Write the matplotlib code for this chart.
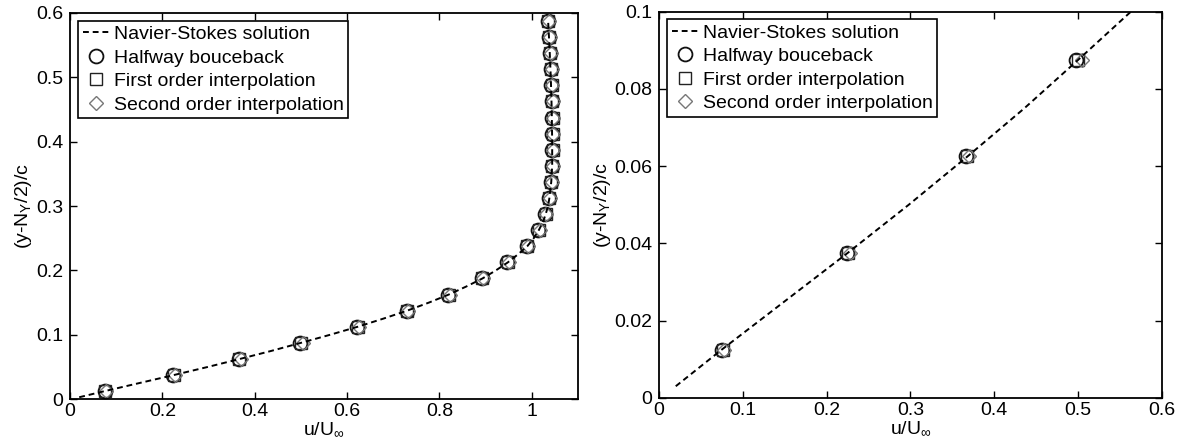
import matplotlib.pyplot as plt
from matplotlib.ticker import FormatStrFormatter, MultipleLocator

plt.rcParams['font.family'] = ['Liberation Sans', 'DejaVu Sans']
plt.rcParams['mathtext.default'] = 'regular'

# Navier-Stokes reference profile
ns_y = [0.003, 0.0125, 0.025, 0.0375, 0.05, 0.0625, 0.075, 0.0875, 0.1, 0.1125,
        0.125, 0.1375, 0.15, 0.1625, 0.175, 0.1875, 0.2, 0.2125, 0.225, 0.2375,
        0.25, 0.2625, 0.275, 0.2875, 0.3, 0.3125, 0.325, 0.3375, 0.35, 0.3625,
        0.4, 0.45, 0.5, 0.55, 0.59]
ns_u = [0.02, 0.075, 0.15, 0.225, 0.298, 0.368, 0.436, 0.50, 0.563, 0.623,
        0.678, 0.73, 0.777, 0.82, 0.858, 0.893, 0.922, 0.948, 0.970, 0.99,
        1.004, 1.015, 1.024, 1.03, 1.035, 1.038, 1.040, 1.042, 1.043, 1.044,
        1.044, 1.043, 1.041, 1.038, 1.035]

# lattice node heights and velocities for each wall treatment
node_y = [0.0125, 0.0375, 0.0625, 0.0875, 0.1125, 0.1375, 0.1625, 0.1875,
          0.2125, 0.2375, 0.2625, 0.2875, 0.3125, 0.3375, 0.3625, 0.3875,
          0.4125, 0.4375, 0.4625, 0.4875, 0.5125, 0.5375, 0.5625, 0.5875]
u_halfway = [0.075, 0.224, 0.366, 0.498, 0.622, 0.729, 0.819, 0.892, 0.947, 0.989,
             1.014, 1.029, 1.037, 1.041, 1.043, 1.044, 1.044, 1.044, 1.043, 1.042,
             1.041, 1.039, 1.037, 1.035]
u_first = [0.076, 0.225, 0.367, 0.500, 0.623, 0.730, 0.820, 0.893, 0.948, 0.990,
           1.015, 1.030, 1.038, 1.042, 1.044, 1.045, 1.045, 1.045, 1.044, 1.043,
           1.042, 1.040, 1.038, 1.036]
u_second = [0.077, 0.228, 0.370, 0.505, 0.626, 0.732, 0.822, 0.895, 0.950, 0.992,
            1.017, 1.031, 1.039, 1.043, 1.045, 1.046, 1.046, 1.046, 1.045, 1.044,
            1.043, 1.041, 1.039, 1.037]

fs = 14
fig = plt.figure(figsize=(11.78, 4.46), dpi=100)
ax1 = fig.add_axes([0.0594, 0.105, 0.4313, 0.866])
ax2 = fig.add_axes([0.5594, 0.108, 0.4270, 0.866])

for ax in (ax1, ax2):
    ax.plot(ns_u, ns_y, color='black', ls=(0, (3, 2)), lw=1.4,
            label='Navier-Stokes solution', zorder=3)
    ax.plot(u_halfway, node_y, ls='none', marker='o', ms=10, mfc='none',
            mec='#111111', mew=1.3, label='Halfway bouceback')
    ax.plot(u_first, node_y, ls='none', marker='s', ms=8, mfc='none',
            mec='#222222', mew=1.0, label='First order interpolation')
    ax.plot(u_second, node_y, ls='none', marker='D', ms=7.5, mfc='none',
            mec='#777777', mew=1.0, label='Second order interpolation')
    ax.tick_params(direction='in', top=True, right=True, length=5, width=1,
                   labelsize=fs)
    ax.tick_params(axis='x', pad=3)
    ax.tick_params(axis='y', pad=5)
    for s in ax.spines.values():
        s.set_linewidth(1.3)
    ax.set_xlabel(r'u/U$_\infty$', fontsize=fs, labelpad=0)
    ax.set_ylabel(r'(y-N$_Y$/2)/c', fontsize=fs, labelpad=1)
    leg = ax.legend(loc='upper left', fontsize=fs, handlelength=1.4,
                    handletextpad=0.2, labelspacing=0.3, borderpad=0.25,
                    borderaxespad=0.4, fancybox=False, edgecolor='black',
                    framealpha=1)
    leg.get_frame().set_linewidth(1.2)

ax1.set_xlim(0, 1.1)
ax1.set_ylim(0, 0.6)
ax1.set_xticks([0, 0.2, 0.4, 0.6, 0.8, 1.0])
ax1.yaxis.set_major_locator(MultipleLocator(0.1))
ax1.xaxis.set_major_formatter(FormatStrFormatter('%g'))
ax1.yaxis.set_major_formatter(FormatStrFormatter('%g'))

ax2.set_xlim(0, 0.6)
ax2.set_ylim(0, 0.1)
ax2.xaxis.set_major_locator(MultipleLocator(0.1))
ax2.yaxis.set_major_locator(MultipleLocator(0.02))
ax2.xaxis.set_major_formatter(FormatStrFormatter('%g'))
ax2.yaxis.set_major_formatter(FormatStrFormatter('%g'))

fig.savefig('out.png', dpi=100)
